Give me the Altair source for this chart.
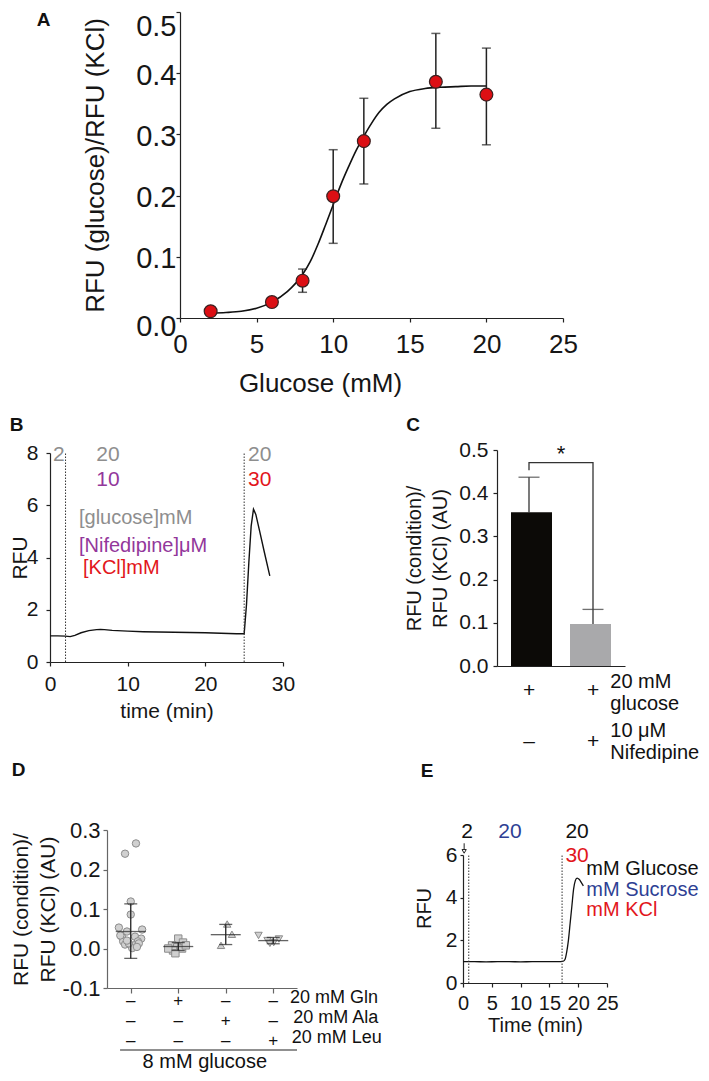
import altair as alt
import pandas as pd

FONT = "Liberation Sans"
W, H = 693, 1065

# ---------------- Panel A: glucose dose response ----------------
a_glucose = [2, 6, 8, 10, 12, 16.7, 20]
a_ratio = [0.011, 0.026, 0.061, 0.199, 0.289, 0.386, 0.365]
a_err_lo = [0.009, 0.021, 0.042, 0.122, 0.219, 0.310, 0.283]
a_err_hi = [0.013, 0.031, 0.080, 0.275, 0.359, 0.465, 0.441]
a_fit_glucose = [2, 3, 4, 5, 6, 7, 8, 8.5, 9, 9.5, 10, 10.5, 11, 11.5, 12, 12.5,
                 13, 13.5, 14, 15, 16, 17, 18, 19, 20]
a_fit_ratio = [0.008, 0.009, 0.011, 0.016, 0.026, 0.043, 0.071, 0.092, 0.120, 0.152,
               0.185, 0.218, 0.247, 0.274, 0.297, 0.318, 0.336, 0.349, 0.358, 0.370,
               0.375, 0.377, 0.378, 0.379, 0.379]

# ---------------- Panel B: trace with nifedipine ----------------
b_time = [0, 1, 2, 2.6, 3.2, 4, 5, 6, 6.5, 7, 8, 10, 12, 14, 16, 18, 20, 22, 24,
          25.0, 25.3, 25.6, 25.9, 26.2, 26.5, 27.0, 27.6, 28.3]
b_rfu = [1.0, 1.0, 0.99, 0.97, 1.02, 1.12, 1.2, 1.24, 1.25, 1.24, 1.21, 1.18, 1.16,
         1.15, 1.14, 1.13, 1.12, 1.10, 1.08, 1.08, 2.2, 3.8, 5.2, 5.85, 5.65, 5.0, 4.2, 3.3]
b_switch_time = [2, 25]
b_top_text = ["2", "20", "10", "20", "30"]
b_top_time = [1.15, 7.47, 7.47, 27.0, 27.0]
b_top_rfu = [7.93, 7.93, 6.97, 7.93, 6.97]
b_top_color = ["#8e8e8e", "#8e8e8e", "#93379b", "#8e8e8e", "#e2161c"]
b_key_text = ["[glucose]mM", "[Nifedipine]\u03bcM", "[KCl]mM"]
b_key_time = [3.73, 3.73, 4.25]
b_key_rfu = [5.52, 4.44, 3.60]
b_key_color = ["#8e8e8e", "#93379b", "#e2161c"]

# ---------------- Panel C: bars ----------------
c_pos = [1, 2]
c_mean = [0.356, 0.097]
c_err_hi = [0.437, 0.131]
c_color = ["#0c0a07", "#a9a9ab"]
c_bracket_pos = [1, 1, 2, 2]
c_bracket_val = [0.453, 0.471, 0.471, 0.131]
c_sign_text = ["+", "+", "\u2013", "+"]
c_sign_pos = [1, 2, 1, 2]
c_sign_val = [-0.058, -0.058, -0.175, -0.175]
c_factor_text = ["20 mM", "glucose", "10 \u03bcM", "Nifedipine"]
c_factor_val = [-0.036, -0.087, -0.151, -0.202]

# ---------------- Panel D: amino acids ----------------
d_ctrl_pos = [0.88, 1.11, 1.00, 1.00, 0.75, 1.24, 0.92, 1.09, 0.82, 1.22, 0.84, 1.15,
              0.88, 1.07, 1.03, 1.17, 0.96, 0.92, 1.13, 0.78]
d_ctrl_val = [0.240, 0.266, 0.119, 0.086, 0.053, 0.048, 0.043, 0.030, 0.028, 0.025,
              0.018, 0.018, 0.010, 0.008, 0.001, 0.013, 0.013, 0.020, 0.004, 0.033]
d_gln_pos = [2.00, 2.10, 1.87, 1.98, 1.89, 2.08, 1.79, 1.94, 2.16]
d_gln_val = [0.025, 0.015, 0.008, 0.003, -0.005, 0.000, 0.000, -0.012, 0.008]
d_ala_pos = [3.03, 3.13, 2.90]
d_ala_val = [0.062, 0.036, 0.008]
d_leu_pos = [3.69, 3.88, 4.01, 4.12, 3.93]
d_leu_val = [0.033, 0.020, 0.015, 0.024, 0.013]
d_pos = [1, 2, 3, 4]
d_mean = [0.043, 0.005, 0.035, 0.020]
d_sd_lo = [-0.025, -0.005, 0.010, 0.012]
d_sd_hi = [0.113, 0.015, 0.061, 0.028]
d_gln_sign = ["\u2013", "+", "\u2013", "\u2013"]
d_ala_sign = ["\u2013", "\u2013", "+", "\u2013"]
d_leu_sign = ["\u2013", "\u2013", "\u2013", "+"]
d_row_val = [-0.133, -0.184, -0.234]
d_row_text = ["20 mM Gln", "20 mM Ala", "20 mM Leu"]
d_row_text_pos = [4.35, 4.42, 4.39]
d_row_text_val = [-0.125, -0.176, -0.227]
d_base_text = "8 mM glucose"

# ---------------- Panel E: sucrose control ----------------
e_time = [0, 2, 4, 6, 8, 10, 12, 14, 16, 17.0, 17.4, 17.7, 18.0, 18.3, 18.6, 18.9,
          19.2, 19.5, 19.8, 20.2, 20.6, 20.9]
e_rfu = [1.0, 1.0, 0.99, 1.0, 1.0, 0.99, 1.0, 1.0, 1.0, 1.0, 1.02, 1.1, 1.45, 2.0,
         2.8, 3.6, 4.4, 4.8, 4.92, 4.85, 4.68, 4.55]
e_switch_time = [1.0, 17.2]
e_top_text = ["2", "20", "20", "30"]
e_top_time = [0.7, 8.16, 19.8, 19.8]
e_top_rfu = [7.1, 7.1, 7.1, 5.95]
e_top_color = ["#111111", "#2e3f94", "#111111", "#e2161c"]
e_key_text = ["mM Glucose", "mM Sucrose", "mM KCl"]
e_key_time = [21.4, 21.4, 21.4]
e_key_rfu = [5.34, 4.36, 3.42]
e_key_color = ["#111111", "#2e3f94", "#e2161c"]

# ---------------- layout: data domain -> plot pixel range ----------------
PANELS = {
    "A": ([0, 25], [172, 555], [0, 0.5], [310, 4]),
    "B": ([0, 30], [42, 275], [0, 8], [654, 445]),
    "C": ([0.5, 2.5], [489, 617], [0, 0.5], [658, 442]),
    "D": ([0.5, 4.5], [99, 289], [-0.1, 0.3], [980, 822]),
    "E": ([0, 25], [455, 599], [0, 6], [975, 847]),
}
LETTERS = {"A": (-8.9, 0.487), "B": (-4.3, 9.08), "C": (-0.81, 0.557),
           "D": (-1.36, 0.452), "E": (-6.25, 9.94)}


def sc(p, ax):
    dx, rx, dy, ry = PANELS[p]
    if ax == "x":
        return alt.Scale(domain=dx, range=rx, nice=False, zero=False)
    return alt.Scale(domain=dy, range=ry, nice=False, zero=False)


def X(p, f, axis=None):
    return alt.X(f, type="quantitative", scale=sc(p, "x"), axis=axis)


def Y(p, f, axis=None):
    return alt.Y(f, type="quantitative", scale=sc(p, "y"), axis=axis)


def bottom_axis(p, **kw):
    return alt.Axis(orient="bottom", offset=PANELS[p][3][0] - H, grid=False,
                    labelFlush=False, labelOverlap=False, **kw)


def left_axis(p, **kw):
    return alt.Axis(orient="left", offset=-PANELS[p][1][0], grid=False,
                    labelFlush=False, labelOverlap=False, **kw)


def texts(p, df, size, align="center", color=None, weight="normal"):
    kw = dict(align=align, baseline="middle", fontSize=size, font=FONT, fontWeight=weight)
    if color is not None:
        kw["color"] = color
    enc = dict(x=X(p, "x"), y=Y(p, "y"), text=alt.Text("t:N"))
    if "c" in df.columns:
        enc["color"] = alt.Color("c:N", scale=None)
    return alt.Chart(df).mark_text(**kw).encode(**enc)


layers = []

# ===== A =====
dfA = pd.DataFrame({"x": a_glucose, "y": a_ratio, "lo": a_err_lo, "hi": a_err_hi})
dfA_fit = pd.DataFrame({"x": a_fit_glucose, "y": a_fit_ratio})
dfA_caps = pd.DataFrame({"x": a_glucose + a_glucose, "y": a_err_lo + a_err_hi})
axAx = bottom_axis("A", values=[0, 5, 10, 15, 20, 25], format="d", tickSize=4,
                   labelFontSize=26, labelPadding=9, title="Glucose (mM)",
                   titleFontSize=26, titleX=312, titleY=65, titleBaseline="middle")
axAy = left_axis("A", values=[0, 0.1, 0.2, 0.3, 0.4, 0.5], format=".1f", tickSize=4,
                 labelFontSize=29, labelPadding=0,
                 labelOffset={"condition": [{"test": "datum.value > 0.49", "value": 14},
                                            {"test": "datum.value < 0.001", "value": 8}],
                              "value": 2},
                 title="RFU (glucose)/RFU (KCl)", titleFontSize=26, titleX=-85,
                 titleBaseline="middle")
layers.append(alt.Chart(dfA_fit).mark_line(color="#111", strokeWidth=1.6, interpolate="monotone")
              .encode(x=X("A", "x", axAx), y=Y("A", "y", axAy)))
layers.append(alt.Chart(dfA).mark_rule(color="#222", strokeWidth=1.5)
              .encode(x=X("A", "x"), y=Y("A", "lo"), y2=alt.Y2("hi")))
layers.append(alt.Chart(dfA_caps).mark_tick(orient="horizontal", size=9, thickness=1.5, color="#222")
              .encode(x=X("A", "x"), y=Y("A", "y")))
layers.append(alt.Chart(dfA).mark_point(shape="circle", filled=True, size=165, fill="#dc0f14",
                                        stroke="#3a2020", strokeWidth=1.2, opacity=1)
              .encode(x=X("A", "x"), y=Y("A", "y")))

# ===== B =====
dfB = pd.DataFrame({"x": b_time, "y": b_rfu})
dfB_sw = pd.DataFrame({"x": b_switch_time, "lo": [0, 0], "hi": [8, 8]})
axBx = bottom_axis("B", values=[0, 10, 20, 30], format="d", tickSize=4, labelFontSize=21,
                   labelPadding=7, title="time (min)", titleFontSize=21, titleY=49,
                   titleBaseline="middle")
axBy = left_axis("B", values=[0, 2, 4, 6, 8], format="d", tickSize=4, labelFontSize=21,
                 labelPadding=8, title="RFU", titleFontSize=21, titleX=-30,
                 titleBaseline="middle")
layers.append(alt.Chart(dfB).mark_line(color="#111", strokeWidth=1.4)
              .encode(x=X("B", "x", axBx), y=Y("B", "y", axBy)))
layers.append(alt.Chart(dfB_sw).mark_rule(color="#333", strokeWidth=1, strokeDash=[1.5, 1.5])
              .encode(x=X("B", "x"), y=Y("B", "lo"), y2=alt.Y2("hi")))
layers.append(texts("B", pd.DataFrame({"x": b_top_time, "y": b_top_rfu, "t": b_top_text,
                                       "c": b_top_color}), 21))
layers.append(texts("B", pd.DataFrame({"x": b_key_time, "y": b_key_rfu, "t": b_key_text,
                                       "c": b_key_color}), 20, align="left"))

# ===== C =====
dfC = pd.DataFrame({"x": c_pos, "y": c_mean, "base": [0, 0], "hi": c_err_hi, "c": c_color})
dfC_br = pd.DataFrame({"x": c_bracket_pos, "y": c_bracket_val, "i": [0, 1, 2, 3]})
axCx = bottom_axis("C", ticks=False, labels=False, title=None)
axCy = left_axis("C", values=[0, 0.1, 0.2, 0.3, 0.4, 0.5], format=".1f", tickSize=4,
                 labelFontSize=21, labelPadding=5,
                 title=["RFU (condition)/", "RFU (KCl) (AU)"], titleFontSize=20,
                 titleLineHeight=26, titleX=-83, titleBaseline="middle")
layers.append(alt.Chart(dfC).mark_rule(color="#333", strokeWidth=1.3)
              .encode(x=X("C", "x"), y=Y("C", "y"), y2=alt.Y2("hi")))
layers.append(alt.Chart(dfC).mark_tick(orient="horizontal", size=21, thickness=1.3, color="#333")
              .encode(x=X("C", "x"), y=Y("C", "hi")))
layers.append(alt.Chart(dfC).mark_bar(size=41)
              .encode(x=X("C", "x", axCx), y=Y("C", "y", axCy), y2=alt.Y2("base"),
                      color=alt.Color("c:N", scale=None)))
layers.append(alt.Chart(dfC_br).mark_line(color="#333", strokeWidth=1.3)
              .encode(x=X("C", "x"), y=Y("C", "y"), order=alt.Order("i:Q")))
layers.append(texts("C", pd.DataFrame({"x": [1.5], "y": [0.49], "t": ["*"]}), 22, color="#111"))
layers.append(texts("C", pd.DataFrame({"x": c_sign_pos, "y": c_sign_val, "t": c_sign_text}),
                    21, color="#111"))
layers.append(texts("C", pd.DataFrame({"x": [2.27] * 4, "y": c_factor_val, "t": c_factor_text}),
                    20, align="left", color="#111"))

# ===== D =====
dfD_pts = pd.DataFrame({
    "x": d_ctrl_pos + d_gln_pos + d_ala_pos + d_leu_pos,
    "y": d_ctrl_val + d_gln_val + d_ala_val + d_leu_val,
    "s": ["circle"] * len(d_ctrl_pos) + ["square"] * len(d_gln_pos)
         + ["triangle-up"] * len(d_ala_pos) + ["triangle-down"] * len(d_leu_pos),
})
dfD_sd = pd.DataFrame({"x": d_pos, "lo": d_sd_lo, "hi": d_sd_hi, "m": d_mean})
dfD_caps = pd.DataFrame({"x": d_pos + d_pos, "y": d_sd_lo + d_sd_hi})
axDx = bottom_axis("D", values=[1, 2, 3, 4], labels=False, tickSize=5, title=None,
                   domainColor="#666", tickColor="#666")
axDy = left_axis("D", values=[-0.1, 0, 0.1, 0.2, 0.3], tickSize=4, labelFontSize=22,
                 labelPadding=3,
                 labelExpr="datum.value < 0 ? '-' + format(-datum.value, '.1f') : format(datum.value, '.1f')",
                 title=["RFU (condition)/", "RFU (KCl) (AU)"], titleFontSize=21,
                 titleLineHeight=27, titleX=-86, titleBaseline="middle",
                 domainColor="#666", tickColor="#666")
layers.append(alt.Chart(dfD_pts).mark_point(filled=True, size=55, fill="#d0d0d0",
                                            stroke="#8c8c8c", strokeWidth=1, opacity=1)
              .encode(x=X("D", "x", axDx), y=Y("D", "y", axDy),
                      shape=alt.Shape("s:N", scale=None)))
layers.append(alt.Chart(dfD_sd).mark_rule(color="#222", strokeWidth=1.3)
              .encode(x=X("D", "x"), y=Y("D", "lo"), y2=alt.Y2("hi")))
layers.append(alt.Chart(dfD_caps).mark_tick(orient="horizontal", size=13, thickness=1.3, color="#222")
              .encode(x=X("D", "x"), y=Y("D", "y")))
layers.append(alt.Chart(dfD_sd).mark_tick(orient="horizontal", size=30, thickness=1.3, color="#222")
              .encode(x=X("D", "x"), y=Y("D", "m")))
dfD_signs = pd.DataFrame({
    "x": d_pos * 3,
    "y": [d_row_val[0]] * 4 + [d_row_val[1]] * 4 + [d_row_val[2]] * 4,
    "t": d_gln_sign + d_ala_sign + d_leu_sign,
})
layers.append(texts("D", dfD_signs, 17, color="#111"))
layers.append(texts("D", pd.DataFrame({"x": d_row_text_pos, "y": d_row_text_val, "t": d_row_text}),
                    18, align="left", color="#111"))
layers.append(alt.Chart(pd.DataFrame({"x": [0.775], "x2": [4.5], "y": [-0.257]}))
              .mark_rule(color="#222", strokeWidth=1.2)
              .encode(x=X("D", "x"), x2=alt.X2("x2"), y=Y("D", "y")))
layers.append(texts("D", pd.DataFrame({"x": [2.56], "y": [-0.287], "t": [d_base_text]}),
                    20, color="#111"))

# ===== E =====
dfE = pd.DataFrame({"x": e_time, "y": e_rfu})
dfE_sw = pd.DataFrame({"x": e_switch_time, "lo": [0, 0], "hi": [6, 6]})
axEx = bottom_axis("E", values=[0, 5, 10, 15, 20, 25], format="d", tickSize=4,
                   labelFontSize=20, labelPadding=6, title="Time (min)", titleFontSize=20,
                   titleY=42, titleBaseline="middle")
axEy = left_axis("E", values=[0, 2, 4, 6], format="d", tickSize=3, labelFontSize=21,
                 labelPadding=3, title="RFU", titleFontSize=20, titleX=-39, titleY=900,
                 titleBaseline="middle")
layers.append(alt.Chart(dfE).mark_line(color="#111", strokeWidth=1.3, interpolate="monotone")
              .encode(x=X("E", "x", axEx), y=Y("E", "y", axEy)))
layers.append(alt.Chart(dfE_sw).mark_rule(color="#333", strokeWidth=1, strokeDash=[1.5, 1.5])
              .encode(x=X("E", "x"), y=Y("E", "lo"), y2=alt.Y2("hi")))
layers.append(alt.Chart(pd.DataFrame({"x": [0.2], "lo": [6.15], "hi": [6.55]}))
              .mark_rule(color="#222", strokeWidth=1)
              .encode(x=X("E", "x"), y=Y("E", "lo"), y2=alt.Y2("hi")))
layers.append(alt.Chart(pd.DataFrame({"x": [0.2], "y": [6.17]}))
              .mark_point(shape="triangle-down", size=18, fill="white", stroke="#222",
                          strokeWidth=1, filled=False, opacity=1)
              .encode(x=X("E", "x"), y=Y("E", "y")))
layers.append(texts("E", pd.DataFrame({"x": e_top_time, "y": e_top_rfu, "t": e_top_text,
                                       "c": e_top_color}), 21))
layers.append(texts("E", pd.DataFrame({"x": e_key_time, "y": e_key_rfu, "t": e_key_text,
                                       "c": e_key_color}), 20, align="left"))

# ===== panel letters =====
for p, (lx, ly) in LETTERS.items():
    layers.append(texts(p, pd.DataFrame({"x": [lx], "y": [ly], "t": [p]}), 19,
                        color="#111", weight="bold"))

chart = (
    alt.layer(*layers)
    .resolve_scale(x="independent", y="independent")
    .resolve_axis(x="independent", y="independent")
    .properties(width=W, height=H, autosize=alt.AutoSizeParams(type="none"), padding=0)
    .configure_view(strokeWidth=0)
    .configure_axis(labelFont=FONT, titleFont=FONT, labelColor="#161616", titleColor="#161616",
                    titleFontWeight="normal", domainColor="#222", tickColor="#222",
                    domainWidth=1.2, tickWidth=1.2, grid=False)
    .configure_text(font=FONT)
)

chart.save("out.html", embed_options={"renderer": "svg", "actions": False})
